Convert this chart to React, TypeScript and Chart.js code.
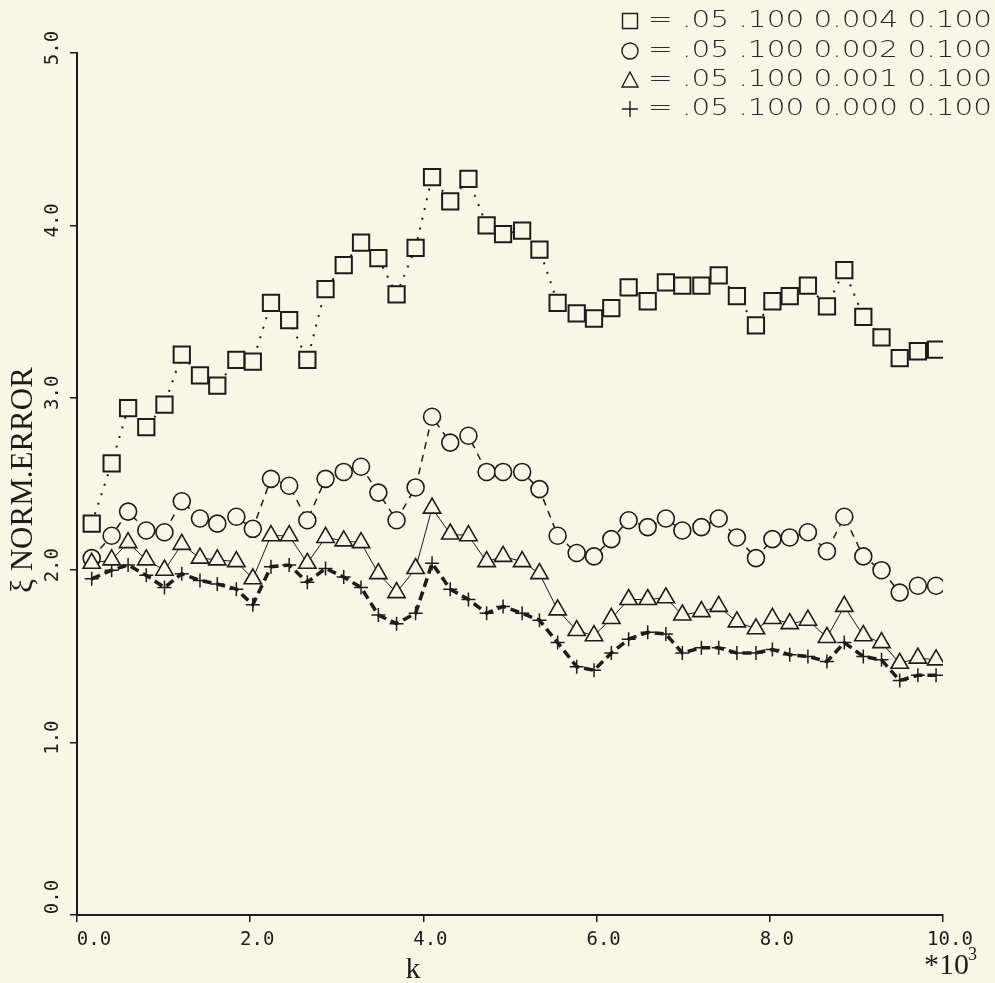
import React, { useEffect, useRef } from 'react';
import { Chart, registerables } from 'chart.js';

Chart.register(...registerables);

// k values (in units of 10^3)
const K = [0.17, 0.40, 0.59, 0.80, 1.01, 1.21, 1.42, 1.62, 1.84, 2.03, 2.24, 2.45, 2.66, 2.87, 3.08, 3.28, 3.48, 3.69, 3.91, 4.10, 4.31, 4.52, 4.73, 4.92, 5.14, 5.34, 5.55, 5.77, 5.97, 6.17, 6.37, 6.59, 6.80, 6.99, 7.21, 7.41, 7.62, 7.84, 8.03, 8.23, 8.44, 8.66, 8.86, 9.08, 9.29, 9.50, 9.71, 9.92];

// □ = .05 .100 0.004 0.100
const SQUARE = [2.27, 2.62, 2.94, 2.83, 2.96, 3.25, 3.13, 3.07, 3.22, 3.21, 3.55, 3.45, 3.22, 3.63, 3.77, 3.90, 3.81, 3.60, 3.87, 4.28, 4.14, 4.27, 4.00, 3.95, 3.97, 3.86, 3.55, 3.49, 3.46, 3.52, 3.64, 3.56, 3.67, 3.65, 3.65, 3.71, 3.59, 3.42, 3.56, 3.59, 3.65, 3.53, 3.74, 3.47, 3.35, 3.23, 3.27, 3.28];

// ○ = .05 .100 0.002 0.100
const CIRCLE = [2.07, 2.20, 2.34, 2.23, 2.22, 2.40, 2.30, 2.27, 2.31, 2.24, 2.53, 2.49, 2.29, 2.53, 2.57, 2.60, 2.45, 2.29, 2.48, 2.89, 2.74, 2.78, 2.57, 2.57, 2.57, 2.47, 2.20, 2.10, 2.08, 2.18, 2.29, 2.25, 2.30, 2.23, 2.25, 2.30, 2.19, 2.07, 2.18, 2.19, 2.22, 2.11, 2.31, 2.08, 2.00, 1.87, 1.91, 1.91];

// △ = .05 .100 0.001 0.100
const TRIANGLE = [2.04, 2.06, 2.16, 2.06, 2.00, 2.15, 2.07, 2.06, 2.05, 1.95, 2.20, 2.20, 2.04, 2.19, 2.17, 2.16, 1.98, 1.87, 2.01, 2.36, 2.21, 2.20, 2.05, 2.08, 2.05, 1.98, 1.77, 1.65, 1.62, 1.72, 1.83, 1.83, 1.84, 1.74, 1.76, 1.79, 1.70, 1.66, 1.72, 1.69, 1.71, 1.61, 1.79, 1.62, 1.58, 1.46, 1.49, 1.48];

// + = .05 .100 0.000 0.100
const PLUS = [1.95, 2.00, 2.03, 1.97, 1.90, 1.98, 1.94, 1.92, 1.89, 1.80, 2.02, 2.03, 1.93, 2.01, 1.96, 1.90, 1.74, 1.69, 1.75, 2.04, 1.89, 1.83, 1.75, 1.79, 1.75, 1.71, 1.58, 1.44, 1.42, 1.52, 1.60, 1.64, 1.63, 1.52, 1.55, 1.55, 1.52, 1.52, 1.54, 1.51, 1.50, 1.47, 1.58, 1.50, 1.48, 1.36, 1.39, 1.39];

const X_TICKS = [0, 2, 4, 6, 8, 10];
const X_TICK_LABELS = ['0.0', '2.0', '4.0', '6.0', '8.0', '10.0'];
const Y_TICKS = [0, 1, 2, 3, 4, 5];
const Y_TICK_LABELS = ['0.0', '1.0', '2.0', '3.0', '4.0', '5.0'];

const LEGEND_LABELS = [
  '= .05 .100 0.004 0.100',
  '= .05 .100 0.002 0.100',
  '= .05 .100 0.001 0.100',
  '= .05 .100 0.000 0.100',
];
const LEGEND_MARKERS = ['square', 'circle', 'triangle', 'plus'];

const Y_TITLE = 'ξ NORM.ERROR';
const X_TITLE = 'k';
const X_MULT = '*10';
const X_MULT_EXP = '3';

const BG = '#f8f7e6';
const INK = '#1c1c1c';
const W = 995;
const H = 983;

function pts(values: number[]) {
  return values.map((v, i) => ({ x: K[i], y: v }));
}

const backgroundPlugin = {
  id: 'bgFill',
  beforeDraw(chart: any) {
    const ctx = chart.ctx;
    ctx.save();
    ctx.fillStyle = BG;
    ctx.fillRect(0, 0, chart.width, chart.height);
    ctx.restore();
  },
};

function drawMarker(ctx: CanvasRenderingContext2D, kind: string, cx: number, cy: number) {
  ctx.beginPath();
  if (kind === 'square') {
    ctx.rect(cx - 7.5, cy - 7.5, 15, 15);
  } else if (kind === 'circle') {
    ctx.arc(cx, cy, 8, 0, Math.PI * 2);
  } else if (kind === 'triangle') {
    ctx.moveTo(cx, cy - 8);
    ctx.lineTo(cx + 8, cy + 7);
    ctx.lineTo(cx - 8, cy + 7);
    ctx.closePath();
  } else {
    ctx.moveTo(cx - 8, cy);
    ctx.lineTo(cx + 8, cy);
    ctx.moveTo(cx, cy - 8);
    ctx.lineTo(cx, cy + 8);
  }
  ctx.stroke();
}

const textPlugin = {
  id: 'textDecor',
  afterDraw(chart: any) {
    const ctx: CanvasRenderingContext2D = chart.ctx;
    const xs = chart.scales.x;
    const ys = chart.scales.y;
    ctx.save();
    ctx.fillStyle = INK;
    ctx.strokeStyle = INK;

    // y tick labels (rotated)
    ctx.font = '19px "DejaVu Sans Mono"';
    ctx.textAlign = 'center';
    ctx.textBaseline = 'middle';
    Y_TICKS.forEach((v, i) => {
      const py = ys.getPixelForValue(v) - (i === 0 ? 18 : 5);
      ctx.save();
      ctx.translate(53, py);
      ctx.rotate(-Math.PI / 2);
      ctx.fillText(Y_TICK_LABELS[i], 0, 0);
      ctx.restore();
    });

    // x tick labels
    X_TICKS.forEach((v, i) => {
      const px = xs.getPixelForValue(v) + (i === 0 ? 17 : 7);
      ctx.fillText(X_TICK_LABELS[i], px, 940);
    });

    // y title
    ctx.font = '31px "Liberation Serif"';
    ctx.textBaseline = 'alphabetic';
    ctx.save();
    ctx.translate(32, 480);
    ctx.rotate(-Math.PI / 2);
    ctx.fillText(Y_TITLE, 0, 0);
    ctx.restore();

    // x title
    ctx.font = '30px "Liberation Serif"';
    ctx.fillText(X_TITLE, 413, 978);

    // multiplier
    ctx.textAlign = 'left';
    ctx.font = '30px "Liberation Serif"';
    ctx.fillText(X_MULT, 924, 974);
    ctx.font = '18px "Liberation Serif"';
    ctx.fillText(X_MULT_EXP, 968, 960);

    // legend
    ctx.font = '200 23px "DejaVu Sans"';
    ctx.textBaseline = 'middle';
    ctx.fillStyle = '#2a2a2a';
    const tw = ctx.measureText(LEGEND_LABELS[0]).width;
    const sx = 344 / tw;
    const rows = [21, 51, 80, 109];
    ctx.lineWidth = 1.4;
    LEGEND_LABELS.forEach((lab, i) => {
      drawMarker(ctx, LEGEND_MARKERS[i], 630, rows[i]);
      ctx.save();
      ctx.translate(648, rows[i]);
      ctx.scale(sx, 1);
      ctx.fillText(lab, 0, 0);
      ctx.restore();
    });

    ctx.restore();
  },
};

export default function App() {
  const ref = useRef<HTMLCanvasElement | null>(null);

  useEffect(() => {
    document.body.style.margin = '0';
    document.body.style.background = BG;
    const canvas = ref.current;
    if (!canvas) return;
    const chart = new Chart(canvas, {
      type: 'line',
      data: {
        datasets: [
          {
            label: LEGEND_LABELS[0],
            data: pts(SQUARE),
            borderColor: INK,
            borderWidth: 2,
            borderDash: [2, 8],
            pointStyle: 'rect',
            pointRadius: 11.5,
            pointBorderWidth: 2,
            pointBorderColor: INK,
            pointBackgroundColor: BG,
            tension: 0,
            order: 3,
          },
          {
            label: LEGEND_LABELS[1],
            data: pts(CIRCLE),
            borderColor: INK,
            borderWidth: 1.5,
            borderDash: [7, 6],
            pointStyle: 'circle',
            pointRadius: 8.5,
            pointBorderWidth: 1.6,
            pointBorderColor: INK,
            pointBackgroundColor: BG,
            tension: 0,
            order: 2,
          },
          {
            label: LEGEND_LABELS[2],
            data: pts(TRIANGLE),
            borderColor: INK,
            borderWidth: 1,
            pointStyle: 'triangle',
            pointRadius: 10,
            pointBorderWidth: 1.6,
            pointBorderColor: INK,
            pointBackgroundColor: BG,
            tension: 0,
            order: 0,
          },
          {
            label: LEGEND_LABELS[3],
            data: pts(PLUS),
            borderColor: INK,
            borderWidth: 3.5,
            borderDash: [9, 5],
            pointStyle: 'cross',
            pointRadius: 7,
            pointBorderWidth: 1.5,
            pointBorderColor: INK,
            tension: 0,
            order: 1,
          },
        ],
      },
      options: {
        animation: false,
        responsive: false,
        maintainAspectRatio: false,
        events: [],
        layout: { padding: { left: 0, top: 53, right: 52, bottom: 0 } },
        plugins: {
          legend: { display: false },
          tooltip: { enabled: false },
        },
        scales: {
          x: {
            type: 'linear',
            min: 0,
            max: 10,
            ticks: { stepSize: 2, display: false },
            grid: {
              display: true,
              drawOnChartArea: false,
              drawTicks: true,
              tickLength: 7,
              color: INK,
              lineWidth: 1.5,
            },
            border: { display: true, color: INK, width: 2 },
            afterFit(s: any) {
              s.height = 68;
            },
          },
          y: {
            type: 'linear',
            min: 0,
            max: 5,
            ticks: { stepSize: 1, display: false },
            grid: {
              display: true,
              drawOnChartArea: false,
              drawTicks: true,
              tickLength: 7,
              color: INK,
              lineWidth: 1.5,
            },
            border: { display: true, color: INK, width: 2 },
            afterFit(s: any) {
              s.width = 77;
            },
          },
        },
      },
      plugins: [backgroundPlugin, textPlugin],
    });
    return () => chart.destroy();
  }, []);

  return (
    <div style={{ width: W, height: H, position: 'relative', background: BG }}>
      <canvas ref={ref} width={W} height={H} style={{ width: W, height: H, display: 'block' }} />
    </div>
  );
}
